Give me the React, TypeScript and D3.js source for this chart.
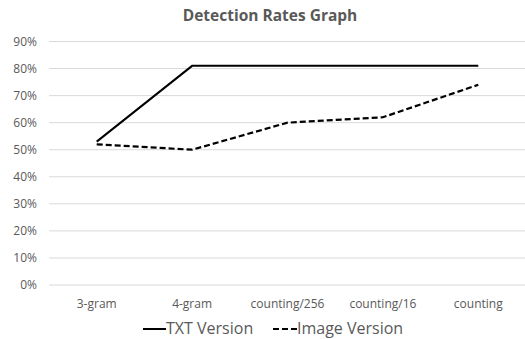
import React from "react";
import * as d3 from "d3";

const categories = ["3-gram", "4-gram", "counting/256", "counting/16", "counting"];
const txtValues = [53, 81, 81, 81, 81];
const imageValues = [52, 50, 60, 62, 74];
const yTicks = [0, 10, 20, 30, 40, 50, 60, 70, 80, 90];

const W = 525, H = 339;
const left = 49, right = 526, top = 41.5, bottom = 285;
const font = "'Open Sans', 'Noto Sans', sans-serif";
const gray = "#595959";

export default function App() {
  const x = d3.scaleBand<string>().domain(categories).range([left, right]);
  const y = d3.scaleLinear().domain([0, 90]).range([bottom, top]);
  const line = d3.line<number>()
    .x((_, i) => (x(categories[i]) as number) + x.bandwidth() / 2)
    .y((d) => y(d));
  return (
    <svg width={W} height={H} style={{ position: "absolute", left: 0, top: 0, background: "#fff" }}>
      <text x={270} y={21} textAnchor="middle" fontFamily={font} fontWeight="bold" fontSize={15.5} fill={gray}>
        Detection Rates Graph
      </text>
      {yTicks.map((t) => (
        <g key={t}>
          <line x1={left} x2={right} y1={y(t)} y2={y(t)} stroke="#d9d9d9" strokeWidth={1} />
          <text x={37} y={y(t) + 4} textAnchor="end" fontFamily={font} fontSize={12} fill={gray}>
            {t}%
          </text>
        </g>
      ))}
      {categories.map((c) => (
        <text key={c} x={(x(c) as number) + x.bandwidth() / 2} y={308} textAnchor="middle" fontFamily={font} fontSize={12} fill={gray}>
          {c}
        </text>
      ))}
      <path d={line(txtValues) || ""} fill="none" stroke="#000" strokeWidth={2} />
      <path d={line(imageValues) || ""} fill="none" stroke="#000" strokeWidth={2.2} strokeDasharray="6,3" />
      <g>
        <line x1={143} x2={166} y1={329} y2={329} stroke="#000" strokeWidth={2} />
        <text x={166} y={334} fontFamily={font} fontSize={16} fill={gray}>TXT Version</text>
        <line x1={273} x2={297} y1={329} y2={329} stroke="#000" strokeWidth={2.2} strokeDasharray="6,3" />
        <text x={297} y={334} fontFamily={font} fontSize={16} fill={gray}>Image Version</text>
      </g>
    </svg>
  );
}
